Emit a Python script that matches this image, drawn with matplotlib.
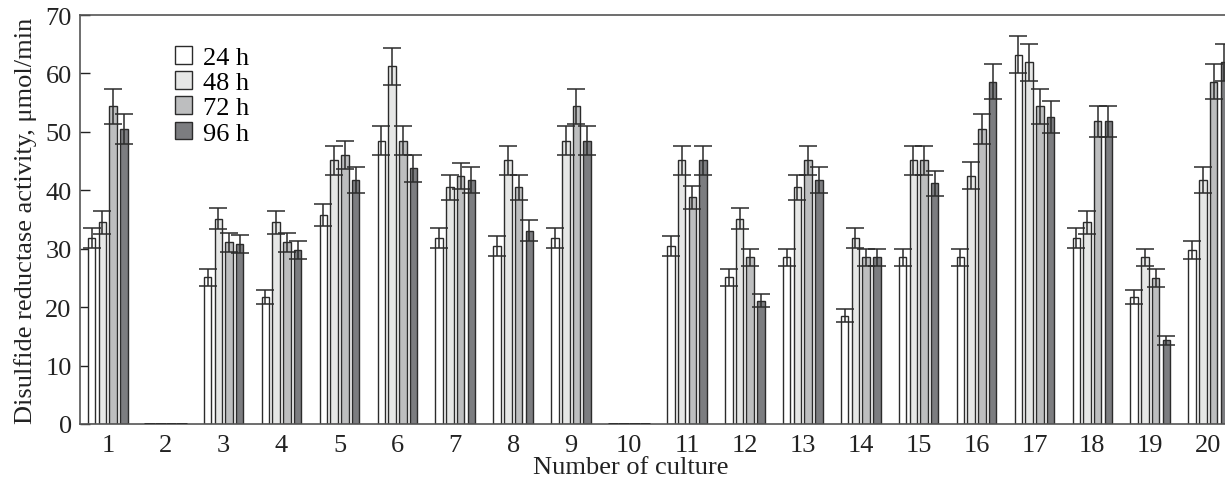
import matplotlib
matplotlib.use("Agg")
import matplotlib.pyplot as plt
import numpy as np

cultures = [str(i) for i in range(1, 21)]
series_labels = ["24 h", "48 h", "72 h", "96 h"]

v24 = [31.8, 0, 25.1, 21.8, 35.8, 48.5, 31.8, 30.5, 31.8, 0, 30.5, 25.1, 28.5, 18.5, 28.5, 28.5, 63.2, 31.8, 21.8, 29.8]
e24 = [1.7, 0, 1.4, 1.2, 1.9, 2.5, 1.7, 1.7, 1.7, 0, 1.7, 1.4, 1.5, 1.1, 1.5, 1.5, 3.2, 1.7, 1.2, 1.6]
v48 = [34.5, 0, 35.1, 34.5, 45.1, 61.2, 40.5, 45.1, 48.5, 0, 45.1, 35.1, 40.5, 31.8, 45.1, 42.5, 61.9, 34.5, 28.5, 41.8]
e48 = [1.9, 0, 1.8, 1.9, 2.4, 3.1, 2.1, 2.4, 2.5, 0, 2.4, 1.8, 2.1, 1.7, 2.4, 2.3, 3.2, 1.9, 1.5, 2.2]
v72 = [54.4, 0, 31.1, 31.1, 46.1, 48.5, 42.5, 40.5, 54.4, 0, 38.8, 28.5, 45.1, 28.5, 45.1, 50.5, 54.4, 51.8, 25.0, 58.6]
e72 = [3.0, 0, 1.6, 1.6, 2.4, 2.5, 2.2, 2.1, 3.0, 0, 2.0, 1.5, 2.4, 1.5, 2.4, 2.6, 3.0, 2.7, 1.5, 3.0]
v96 = [50.5, 0, 30.8, 29.8, 41.8, 43.8, 41.8, 33.1, 48.5, 0, 45.1, 21.1, 41.8, 28.5, 41.2, 58.6, 52.5, 51.8, 14.3, 61.9]
e96 = [2.6, 0, 1.6, 1.6, 2.2, 2.3, 2.2, 1.8, 2.5, 0, 2.4, 1.1, 2.2, 1.5, 2.1, 3.0, 2.7, 2.7, 0.8, 3.2]

values = [v24, v48, v72, v96]
errors = [e24, e48, e72, e96]
colors = ["#ffffff", "#e6e7e6", "#bdbebf", "#7c7d80"]

plt.rcParams['font.family'] = ['Liberation Serif', 'DejaVu Serif']

fig = plt.figure(figsize=(12.25, 4.81), dpi=100)
ax = fig.add_axes([80/1225, 1-425/481, 1-80/1225, (425-16)/481])

x = np.arange(1, 21)
step = 0.185
width = 0.13
edge = "#2b2b2b"
for i in range(4):
    pos = x + (i - 1.5) * step
    vals = np.array(values[i])
    errs = np.array(errors[i])
    ax.bar(pos, vals, width=width, color=colors[i], edgecolor=edge,
           linewidth=1.0, label=series_labels[i], zorder=2)
    mask = vals > 0
    ax.errorbar(pos[mask], vals[mask], yerr=errs[mask], fmt='none',
                ecolor=edge, elinewidth=1.1, capsize=6.5, capthick=1.1, zorder=3)
    for p in pos[~mask]:
        ax.plot([p - step/2, p + step/2], [0, 0], color=edge, lw=2.0, zorder=3,
                solid_capstyle='butt')

ax.set_xlim(0.52, 20.29)
ax.set_ylim(0, 70)
ax.set_xticks(x)
ax.set_xticklabels(cultures)
ax.set_yticks(np.arange(0, 71, 10))
ax.tick_params(axis='x', length=0, labelsize=19, pad=7, colors="#222222")
ax.tick_params(axis='y', direction='in', length=7, width=1, labelsize=19, pad=6, colors="#222222")
for s in ['left', 'bottom', 'top']:
    ax.spines[s].set_color("#555555")
    ax.spines[s].set_linewidth(1.2)
ax.spines['right'].set_visible(False)

ax.set_ylabel("Disulfide reductase activity, μmol/min", fontsize=19, color="#222222", labelpad=6)
fig.text(631/1225, 1-468/481, "Number of culture", ha='center', va='center', fontsize=19, color="#222222")

leg = ax.legend(loc='upper left', bbox_to_anchor=(0.074, 0.95), frameon=False,
                fontsize=19, handlelength=0.65, handleheight=0.65, handletextpad=0.4,
                labelspacing=0.08, borderaxespad=0)

fig.savefig("out.png", dpi=100)
